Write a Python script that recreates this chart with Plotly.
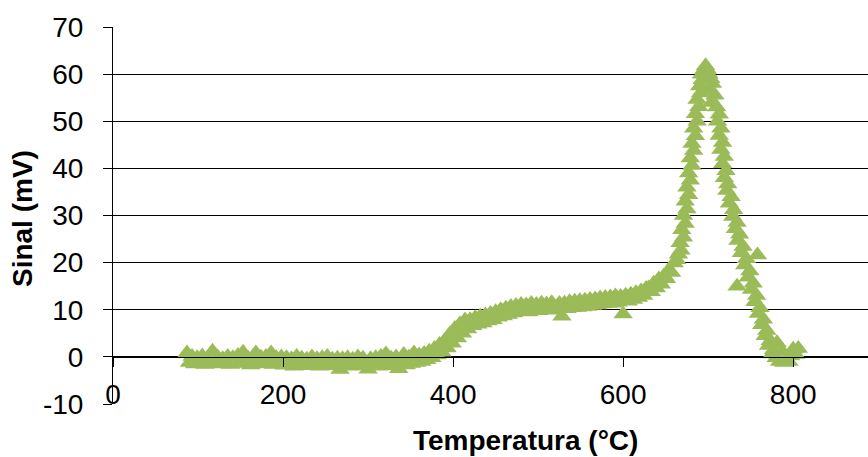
import plotly.graph_objects as go

# Sinal térmico (mV) versus temperatura (°C)
temperatura = [
    # 87-198 °C
    87, 90, 93, 96, 99, 102, 105, 108, 111, 114,
    117, 120, 123, 126, 129, 132, 135, 138, 141, 144,
    147, 150, 153, 156, 159, 162, 165, 168, 171, 174,
    177, 180, 183, 186, 189, 192, 195, 198,
    # 201-357 °C
    201, 204, 207, 210, 213, 216, 219, 222, 225, 228,
    231, 234, 237, 240, 243, 246, 249, 252, 255, 258,
    261, 264, 267, 270, 273, 276, 279, 282, 285, 288,
    291, 294, 297, 300, 303, 306, 309, 312, 315, 318,
    321, 324, 327, 330, 333, 336, 339, 342, 345, 348,
    351, 354, 357,
    # 360-417 °C
    360, 363, 366, 369, 372, 375, 378, 381, 384, 387,
    390, 393, 396, 399, 402, 405, 408, 411, 414, 417,
    # 420-657 °C
    420, 423, 426, 429, 432, 435, 438, 441, 444, 447,
    450, 453, 456, 459, 462, 465, 468, 471, 474, 477,
    480, 483, 486, 489, 492, 495, 498, 501, 504, 507,
    510, 513, 516, 519, 522, 525, 528, 531, 534, 537,
    540, 543, 546, 549, 552, 555, 558, 561, 564, 567,
    570, 573, 576, 579, 582, 585, 588, 591, 594, 597,
    600, 603, 606, 609, 612, 615, 618, 621, 624, 627,
    630, 633, 636, 639, 642, 645, 648, 651, 654, 657,
    # pico
    660, 663, 665, 668, 667, 671, 669, 673, 671, 675,
    673, 677, 675, 679, 677, 681, 679, 683, 681, 685,
    683, 687, 685, 689, 687, 691, 690, 693, 692, 695,
    697, 699, 701, 703, 705, 702, 708, 704, 710, 713,
    711, 715, 713, 717, 715, 719, 717, 721, 719, 723,
    722, 727, 725, 730, 729, 734, 732, 737, 735, 741,
    739, 745, 743, 734, 758, 749, 747, 753, 751, 757,
    755, 761, 759, 765, 763, 769, 767, 773, 771, 777,
    775, 781, 780, 784, 787, 789, 792, 795, 797, 800,
    803, 806,
]
sinal = [
    # 87-198 °C
    0.8, -1.2, 0.1, -1.5, -0.2, -1.3, 0.2, -1.6, -0.3, -1.4,
    1.2, -1.1, 0.0, -1.5, -0.4, -1.2, 0.1, -1.6, -0.2, -1.3,
    0.3, -1.4, 1.0, -1.2, -0.3, -1.7, 0.0, 0.8, -1.3, -0.1,
    -1.5, 0.1, -1.2, 0.8, -1.6, -0.2, -1.4, 0.0,
    # 201-357 °C
    -1.8, -0.2, -1.6, -0.4, -2.0, 0.1, -1.7, -0.3, -1.9, -0.5,
    -1.6, 0.0, -1.8, -0.4, -2.0, -0.2, -1.7, 0.1, -1.9, -0.5,
    -1.6, -0.3, -2.7, -0.4, -1.8, -0.2, -2.0, -0.5, -1.7, 0.0,
    -1.9, -0.3, -1.6, -2.6, -0.4, -1.8, -0.2, -2.0, 0.1, -1.7,
    0.6, -1.9, -0.3, -1.6, 0.0, -2.5, -0.6, 0.5, -1.7, -0.1,
    -1.4, 0.8, -1.2,
    # 360-417 °C
    0.4, -1.0, 0.7, -0.6, 1.2, -0.2, 1.8, 0.4, 2.6, 1.0,
    3.4, 1.9, 4.8, 2.9, 6.0, 4.0, 7.0, 5.0, 7.8, 5.9,
    # 420-657 °C
    7.9, 6.6, 8.3, 6.9, 8.6, 7.2, 8.9, 7.6, 9.2, 7.9,
    9.6, 8.4, 10.0, 8.7, 10.3, 9.0, 10.7, 9.3, 10.9, 9.6,
    11.1, 9.7, 11.0, 9.5, 11.3, 9.9, 11.1, 9.8, 11.4, 10.0,
    11.2, 9.9, 11.5, 10.1, 10.6, 11.3, 8.6, 11.4, 10.2, 11.7,
    10.4, 11.8, 10.5, 11.9, 10.6, 12.0, 10.7, 12.2, 10.9, 12.3,
    11.0, 12.5, 11.2, 12.6, 11.3, 12.7, 11.4, 12.9, 11.6, 12.8,
    9.1, 13.1, 11.8, 13.3, 12.2, 13.6, 12.6, 14.0, 13.0, 14.5,
    14.6, 13.8, 15.6, 14.6, 16.5, 15.4, 17.2, 16.6, 18.4, 17.9,
    # pico
    19.9, 20.6, 21.8, 22.6, 24.2, 25.4, 27.0, 28.3, 30.0, 31.4,
    33.0, 34.4, 36.0, 37.5, 39.0, 40.6, 42.2, 43.8, 45.3, 46.9,
    48.5, 50.0, 51.6, 53.1, 54.6, 56.0, 57.5, 58.8, 60.0, 61.0,
    61.8, 61.0, 60.0, 59.0, 58.0, 56.5, 55.5, 54.0, 53.0, 51.5,
    50.0, 48.5, 47.0, 45.5, 44.0, 42.5, 41.0, 39.5, 38.0, 36.7,
    35.3, 34.0, 32.6, 31.2, 29.8, 28.5, 27.2, 26.0, 24.7, 23.4,
    22.1, 20.8, 19.5, 15.0, 21.6, 18.2, 16.9, 15.6, 14.3, 13.0,
    11.7, 10.4, 9.2, 8.0, 6.8, 5.6, 4.5, 3.4, 2.4, 1.5,
    0.6, 3.0, -0.2, -1.0, 1.2, -1.2, -0.5, -1.0, 0.2, 1.6,
    0.5, 1.8,
]

x_ticks = [0, 200, 400, 600, 800]
y_ticks = [-10, 0, 10, 20, 30, 40, 50, 60, 70]
y_labels = ["-10", "0", "10", "20", "30", "40", "50", "60", "70"]

FONT = "Arial, 'Liberation Sans', sans-serif"
VERDE = "#9BBB59"

fig = go.Figure(
    go.Scatter(
        x=temperatura,
        y=sinal,
        mode="markers",
        marker=dict(symbol="triangle-up", size=17, color=VERDE, line=dict(width=0)),
        showlegend=False,
        hoverinfo="x+y",
    )
)

fig.update_layout(
    width=868,
    height=457,
    margin=dict(l=113, r=0, t=27, b=53),
    paper_bgcolor="white",
    plot_bgcolor="white",
    font=dict(family=FONT, size=28, color="black"),
    xaxis=dict(
        range=[0, 888],
        tickvals=x_ticks,
        ticktext=[str(v) for v in x_ticks],
        showgrid=False,
        zeroline=False,
        showline=True,
        linecolor="black",
        linewidth=1,
        ticks="outside",
        ticklen=9,
        tickcolor="black",
        anchor="free",
        position=0.125,
        tickfont=dict(family=FONT, size=28, color="black"),
        ticklabelstandoff=4,
    ),
    yaxis=dict(
        range=[-10, 70],
        tickvals=y_ticks,
        ticktext=y_labels,
        showgrid=True,
        gridcolor="black",
        gridwidth=1,
        zeroline=False,
        showline=True,
        linecolor="black",
        linewidth=1,
        ticks="outside",
        ticklen=9,
        tickcolor="black",
        tickfont=dict(family=FONT, size=28, color="black"),
        ticklabelstandoff=14,
        domain=[0, 1],
    ),
    annotations=[
        dict(
            text="<b>Temperatura (°C)</b>",
            xref="paper", yref="paper",
            x=0.5457, y=-0.098,
            xanchor="center", yanchor="middle",
            showarrow=False,
            font=dict(family=FONT, size=28, color="black"),
        ),
        dict(
            text="<b>Sinal (mV)</b>",
            xref="paper", yref="paper",
            x=-0.1205, y=0.4907,
            xanchor="center", yanchor="middle",
            textangle=-90,
            showarrow=False,
            font=dict(family=FONT, size=28, color="black"),
        ),
    ],
)

fig.write_html("out.html")
